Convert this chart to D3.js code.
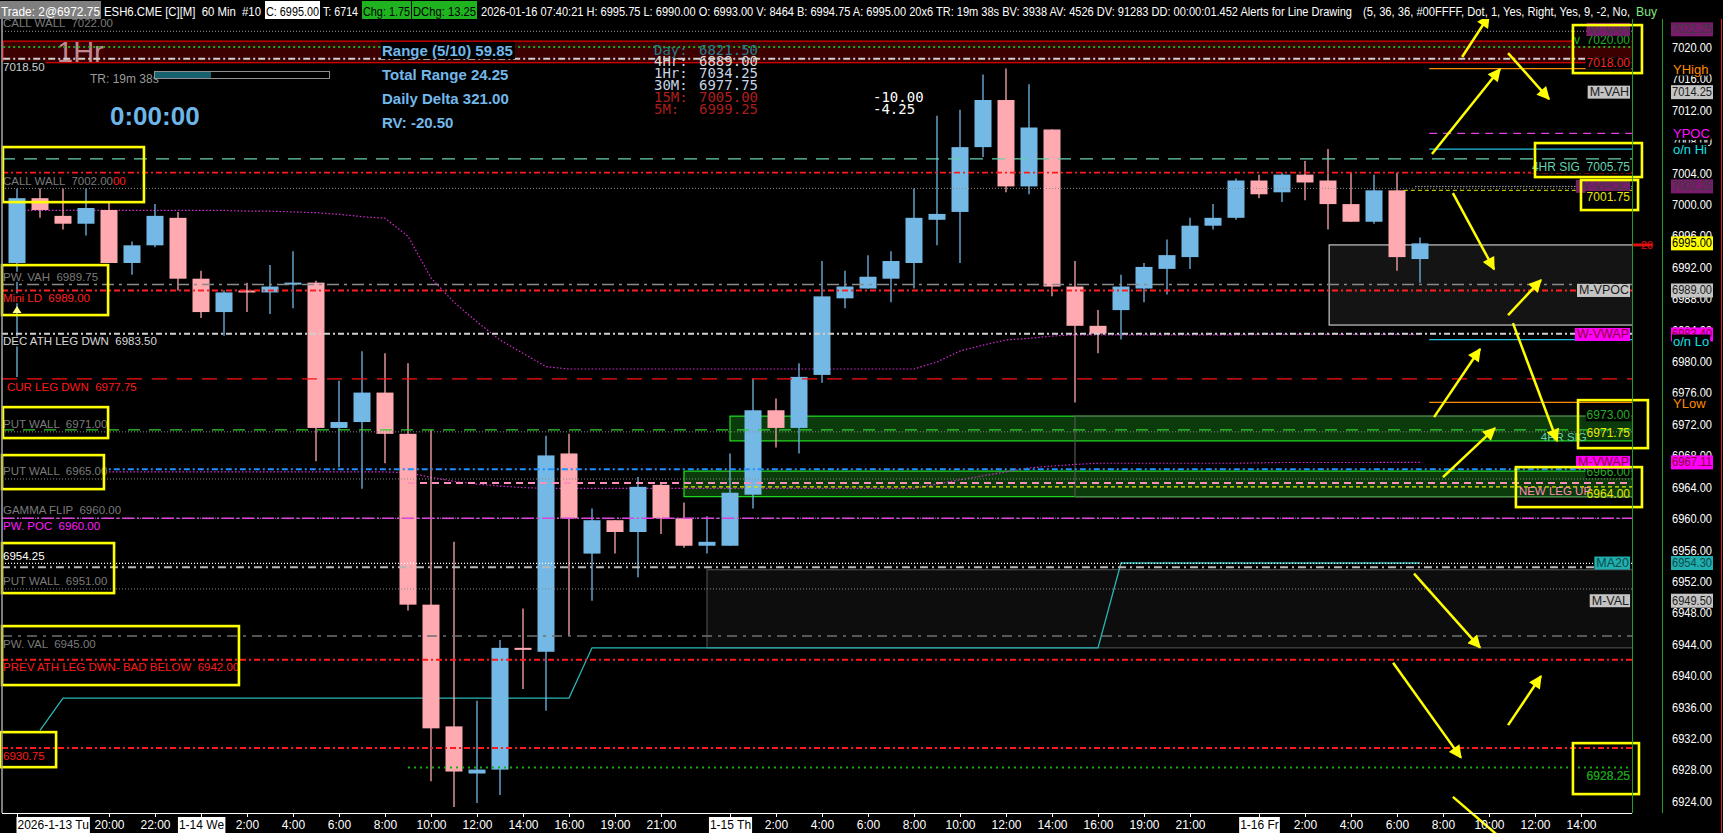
<!DOCTYPE html>
<html><head><meta charset="utf-8">
<script src="https://cdn.jsdelivr.net/npm/d3@7"></script>
<style>
body{margin:0;background:#000;overflow:hidden}
svg{display:block}
text{font-family:"Liberation Sans",Arial,sans-serif;white-space:pre}
.mono{font-family:"DejaVu Sans Mono","Liberation Mono",monospace}
</style></head>
<body><svg id="c" width="1723" height="833"></svg>
<script>
// ---------------- DATA ----------------
const opens  = [6992.5,7000.75,6998.5,6997.5,6999.25,6992.5,6994.75,6998.25,6990.5,6986.25,6989,6988.75,6989.75,6990,6971.5,6972.25,6976,6970.75,6949,6933.5,6927.5,6928,6943.5,6943,6968.25,6955.5,6959.75,6958.25,6964.25,6960,6956.5,6956.5,6963,6973.75,6971.5,6978.25,6988,6989.25,6990.5,6992.5,6998,6999,7007.25,7013.25,7002.25,7009.5,6989.5,6984.5,6986.5,6989.25,6991.75,6993.25,6997.25,6998.25,7003,7001.5,7003.75,7003,7000,6997.75,7001.75,6993];
const highs  = [7002,7002,7002,7002,7000.25,6995.25,7000,6999,6991.5,6989,6990,6992.25,6994,6990.25,6977.5,6981.25,6981,6979.75,6971.25,6957,6936.75,6944.5,6948.5,6970.5,6970.75,6961.25,6959.75,6965.25,6964.5,6962,6960.25,6968.25,6977.75,6975.25,6979.75,6992.75,6991.5,6993.5,6994,7002,7011.25,7012,7016.5,7017.25,7015.25,7009.5,6992.75,6986.5,6991,6992.5,6995.5,6998.25,7000,7003.25,7003.75,7004,7005.5,7007,7004,7003.75,7004,6995.75];
const lows   = [6978,6998.25,6996.75,6996,6992.5,6991,6994.5,6989,6985.5,6983.25,6986.25,6986,6986.75,6967.25,6966.5,6963.75,6967,6948.25,6926.5,6923.25,6923.75,6924.75,6938.25,6935.5,6945,6949.5,6955.5,6952.5,6958,6956.25,6955.5,6956.5,6961.25,6969,6968.25,6977.25,6986.75,6989.25,6987.5,6989.25,6994.75,6992.5,7006,7001.5,7001.25,6988.25,6974.75,6981,6982.75,6987.5,6988.5,6991.75,6996.75,6998,7000.75,7000.25,7000.5,6996.75,6997.75,6997.5,6991.5,6990];
const closes = [7000.75,6999.25,6997.5,6999.5,6992.5,6994.75,6998.5,6990.5,6986.25,6988.75,6988.75,6989.5,6990,6971.5,6972.25,6976,6970.75,6949,6933.25,6927.75,6928,6943.5,6943.25,6968,6960,6959.75,6958.25,6964,6960,6956.5,6957,6963.25,6973.75,6971.5,6978,6988.25,6989.5,6990.75,6992.75,6998.25,6998.75,7007.25,7013.25,7002.25,7009.75,6989.5,6984.5,6983.5,6989.5,6992,6993.5,6997.25,6998.25,7003,7001.25,7003.75,7002.75,7000,6997.75,7001.75,6993.25,6995];

// daily MA20 (steps by session), weekly and monthly VWAP
const ma20 = [null,6933,6937.1,6937.1,6937.1,6937.1,6937.1,6937.1,6937.1,6937.1,6937.1,6937.1,6937.1,6937.1,6937.1,6937.1,6937.1,6937.1,6937.1,6937.1,6937.1,6937.1,6937.1,6937.1,6937.1,6943.5,6943.5,6943.5,6943.5,6943.5,6943.5,6943.5,6943.5,6943.5,6943.5,6943.5,6943.5,6943.5,6943.5,6943.5,6943.5,6943.5,6943.5,6943.5,6943.5,6943.5,6943.5,6943.5,6954.3,6954.3,6954.3,6954.3,6954.3,6954.3,6954.3,6954.3,6954.3,6954.3,6954.3,6954.3,6954.3,6954.3];
const wVwap = [6999.2,6999.2,6999.2,6999.2,6999.2,6999.2,6999.2,6999.2,6999.2,6999.2,6999.1,6999.1,6999.0,6998.9,6998.7,6998.4,6998.2,6995.9,6990.6,6987.5,6985.0,6982.7,6981.0,6979.3,6979.0,6979.0,6979.0,6979.0,6979.0,6979.0,6979.0,6979.0,6979.0,6979.0,6979.0,6979.0,6979.0,6979.0,6979.0,6979.0,6979.9,6981.3,6982.05,6982.7,6982.9,6983.2,6983.35,6983.35,6983.35,6983.35,6983.35,6983.35,6983.35,6983.35,6983.4,6983.4,6983.4,6983.4,6983.4,6983.4,6983.4,6983.4];
const mVwap = [null,null,null,null,6965.9,6965.9,6965.9,6965.9,6965.9,6965.9,6965.9,6965.9,6965.9,6965.9,6965.9,6965.9,6965.9,6965.8,6965.2,6964.7,6964.35,6964.1,6963.9,6963.8,6963.8,6963.8,6963.8,6963.8,6963.8,6963.8,6963.8,6963.8,6963.8,6963.8,6963.8,6963.8,6963.8,6963.8,6963.8,6963.8,6964.35,6964.9,6965.4,6965.9,6966.4,6966.65,6966.85,6967.0,6967.0,6967.0,6967.0,6967.0,6967.0,6967.0,6967.05,6967.1,6967.1,6967.1,6967.1,6967.1,6967.11,6967.11];

// price axis ticks and time axis ticks
const priceTicks = [7020,7016,7012,7008,7004,7000,6996,6992,6988,6984,6980,6976,6972,6968,6964,6960,6956,6952,6948,6944,6940,6936,6932,6928,6924];
const timeTickBars   = [0,4,6,8,10,12,14,16,18,20,22,24,26,28,31,33,35,37,39,41,43,45,47,49,51,54,56,58,60,62,64,66,68];
const timeTickLabels = ["2026-1-13 Tu","20:00","22:00","1-14 We","2:00","4:00","6:00","8:00","10:00","12:00","14:00","16:00","19:00","21:00","1-15 Th","2:00","4:00","6:00","8:00","10:00","12:00","14:00","16:00","19:00","21:00","1-16 Fr","2:00","4:00","6:00","8:00","10:00","12:00","14:00"];

// horizontal levels (price, first bar where drawn)
const levelPrices = [7022,7020,7018.5,7005.75,7004,7002,6989.75,6989,6983.5,6977.75,6971.25,6971,6966.25,6965,6964.5,6964,6960,6960,6954.25,6953.75,6951,6945,6942,6930.75,6928.25];
const levelStart  = [-1,-0.6,-0.6,-1,-1,-1,-1,-1,-1,-1,-1,-1,3.6,-1,17,29,-1,-1,-1,-1,-1,-1,-1,-1,17];
// left level labels
const leftLabelText  = ["CALL WALL  7022.00","7018.50","CALL WALL  7002.00","PW. VAH  6989.75","Mini LD  6989.00","DEC ATH LEG DWN  6983.50","CUR LEG DWN  6977.75","PUT WALL  6971.00","PUT WALL  6965.00","GAMMA FLIP  6960.00","PW. POC  6960.00","6954.25","PUT WALL  6951.00","PW. VAL  6945.00","PREV ATH LEG DWN- BAD BELOW  6942.00","6930.75"];
const leftLabelPrice = [7022,7018.5,7002,6989.75,6989,6983.5,6977.75,6971,6965,6960,6960,6954.25,6951,6945,6942,6930.75];
const leftLabelSide  = [-1,1,-1,-1,1,1,1,-1,-1,-1,1,-1,-1,1,1,1];

// short right-side session levels (start at current bar)
const sessionNames  = ["YHigh","YPOC","o/n Hi","o/n Lo","YLow"];
const sessionPrices = [7017.25,7009,7007,6982.75,6974.75];

// study tags (right edge of chart) and their axis values
const tagNames  = ["W-VAH","M-VAH","W-VPOC","M-VPOC","W-VWAP","M-VWAP","MA20","M-VAL"];
const tagPrices = [7022.25,7014.25,7002.25,6989.0,6983.4,6967.11,6954.3,6949.5];

// zones [startBar, topPrice, bottomPrice]
const zoneStart = [-0.6,31,29,30,46,57.05];
const zoneTop   = [7020.75,6973,6966,6953.45,6973,6994.8];
const zoneBot   = [7018,6969.85,6962.75,6943.5,6962.7,6984.6];

// right-side price notes
const noteText  = ["v  7020.00","7018.00","4HR SIG  7005.75","7001.75","6973.00","6971.75","6966.00","6964.00","6928.25"];
const notePrice = [7020.9,7017.9,7004.7,7000.9,6973.1,6970.8,6965.9,6963.1,6927.2];
const noteExtraText  = ["4HR SIG","NEW LEG UP"];
const noteExtraPrice = [6970.3,6963.5];

// hand-drawn yellow boxes [bar1, price1, bar2, price2]
const boxB1=[-0.61,-0.65,-0.61,-0.65,-0.65,-0.65,-0.74,67.65,66.0,68.0,67.87,65.17,67.65];
const boxP1=[7007.26,6992.23,6974.15,6968.04,6956.84,6946.27,6932.77,7022.79,7007.77,7003.06,6975.04,6966.51,6931.37];
const boxB2=[5.52,3.96,3.96,3.78,4.22,9.65,1.70,70.65,70.65,70.48,70.91,70.65,70.52];
const boxP2=[7000.25,6985.87,6970.21,6963.71,6950.47,6938.76,6928.31,7016.68,7003.44,6999.24,6968.93,6961.42,6924.88];
// hand-drawn yellow arrows [fromBar, fromPrice, toBar, toPrice]
const arrFB=[62.83,61.52,64.83,62.43,64.83,65.04,61.61,62.00,60.74,59.83,64.83,62.43];
const arrFP=[7018.72,7006.37,7019.23,7001.4,6985.87,6984.85,6972.88,6965.24,6952.95,6941.61,6933.66,6924.52];
const arrTB=[64.0,64.48,66.61,64.22,66.26,66.96,63.61,64.26,63.61,62.78,66.26,64.87];
const arrTP=[7024.0,7017.19,7013.37,6991.7,6990.33,6969.83,6981.54,6971.48,6943.53,6929.52,6939.9,6918.4];

// ---------------- CHART ----------------
const svg = d3.select("#c");
const L=2, R=1632, T=19, B=813;
const x = d3.scaleLinear().domain([0,61]).range([17,1420]);
const y = d3.scaleLinear().domain([6924,7020]).range([801,47]);
const up="#74b9e6", dn="#ffa9b0";

svg.append("rect").attr("width",1723).attr("height",833).attr("fill","#000");
const defs = svg.append("defs");
defs.append("clipPath").attr("id","clip").append("rect").attr("x",L).attr("y",T).attr("width",R-L).attr("height",B-T);
defs.append("marker").attr("id","ah").attr("viewBox","0 0 10 10").attr("refX",9).attr("refY",5)
  .attr("markerUnits","userSpaceOnUse").attr("markerWidth",15).attr("markerHeight",13).attr("orient","auto")
  .append("path").attr("d","M0,0 L10,5 L0,10 z").attr("fill","#ffff00");

const g = svg.append("g").attr("clip-path","url(#clip)");

// zones
const zoneFill  = ["#3d0000","#0b3a0b","#0b3a0b","#0d0d0d","none","#141414"];
const zoneStroke= ["#e00000","#22e022","#22e022","#4a4a4a","#555","#c8c8c8"];
zoneStart.forEach((s,i)=>{
  g.append("rect").attr("x",x(s)).attr("y",y(zoneTop[i])).attr("width",R+5-x(s))
   .attr("height",y(zoneBot[i])-y(zoneTop[i])).attr("fill",zoneFill[i]).attr("stroke",zoneStroke[i]).attr("stroke-width",1.2);
});

// 1Hr watermark
g.append("text").attr("x",57).attr("y",52).attr("font-size",29).attr("fill","#c08a94").attr("dominant-baseline","central").text("1Hr");

// series lines
const lineGen = d3.line().defined(d=>d!=null).x((d,i)=>x(i)).y(d=>y(d));
g.append("path").datum(ma20).attr("d",lineGen).attr("fill","none").attr("stroke","#2ab5b5").attr("stroke-width",1.3);
g.append("path").datum(wVwap).attr("d",lineGen).attr("fill","none").attr("stroke","#d42ad4").attr("stroke-width",1.2).attr("stroke-dasharray","1.5,2");
g.append("path").datum(mVwap).attr("d",lineGen).attr("fill","none").attr("stroke","#d42ad4").attr("stroke-width",1.2).attr("stroke-dasharray","1.5,2");

// candles
const cw = 17;
const cg = g.append("g");
opens.forEach((o,i)=>{
  const c = closes[i], col = c>=o?up:dn;
  cg.append("line").attr("x1",x(i)).attr("x2",x(i)).attr("y1",y(highs[i])).attr("y2",y(lows[i])).attr("stroke",col).attr("stroke-width",1.3);
  const top=y(Math.max(o,c)), bot=y(Math.min(o,c));
  cg.append("rect").attr("x",x(i)-cw/2).attr("y",top).attr("width",cw).attr("height",Math.max(2,bot-top)).attr("fill",col);
});

// level lines
const levelStyles = [
 {c:"#9a9a9a",d:"1,2",w:1},{c:"#1faa1f",d:"2,3",w:2},{c:"#d0d0d0",d:"7,3,2,3",w:2},{c:"#66d1b0",d:"13,9",w:1.4},
 {c:"#ff1a1a",d:"6,3,2,3",w:1.6},{c:"#8a8a8a",d:"1,2",w:1},{c:"#8a8a8a",d:"12,5,3,5",w:1.5},{c:"#ff2020",d:"6,3,2,3",w:2},
 {c:"#d0d0d0",d:"6,3,2,3",w:2},{c:"#ff1010",d:"15,10",w:1.4},{c:"#30d030",d:"12,9",w:1.4},{c:"#8a8a8a",d:"1,2",w:1},
 {c:"#1e90ff",d:"6,3,2,3",w:2},{c:"#8a8a8a",d:"1,2",w:1},{c:"#ff8fb8",d:"7,5",w:2},{c:"#e8e800",d:"4,3",w:1.4},
 {c:"#8a8a8a",d:"1,2",w:1},{c:"#e040e0",d:"12,3,2,3",w:1.5},{c:"#ffffff",d:"1,2",w:1.4},{c:"#b8b8b8",d:"8,4,2,4",w:2},
 {c:"#8a8a8a",d:"1,2",w:1},{c:"#707070",d:"10,6,3,6",w:1.5},{c:"#ff1a1a",d:"6,3,2,3",w:2},{c:"#ff1a1a",d:"6,3,2,3",w:2},
 {c:"#16b016",d:"2,4",w:2}
];
levelPrices.forEach((p,i)=>{
  const s=levelStyles[i];
  g.append("line").attr("x1",Math.max(L,x(levelStart[i]))).attr("x2",R).attr("y1",y(p)).attr("y2",y(p))
   .attr("stroke",s.c).attr("stroke-width",s.w).attr("stroke-dasharray",s.d);
});
// session levels + short lines at right
const sessColor = ["#ff8c00","#e040e0","#22c0dc","#22c0dc","#ff8c00"];
const sessDash  = [null,"8,6",null,null,null];
sessionPrices.forEach((p,i)=>{
  g.append("line").attr("x1",x(61.4)).attr("x2",R).attr("y1",y(p)).attr("y2",y(p))
   .attr("stroke",sessColor[i]).attr("stroke-width",1.2).attr("stroke-dasharray",sessDash[i]);
});
g.append("line").attr("x1",x(60.8)).attr("x2",R).attr("y1",y(7002.25)).attr("y2",y(7002.25)).attr("stroke","#ffffff").attr("stroke-dasharray","1,2");
g.append("line").attr("x1",x(60.3)).attr("x2",R).attr("y1",y(7001.75)).attr("y2",y(7001.75)).attr("stroke","#e8e800").attr("stroke-dasharray","4,3");

// left labels with black background
const leftColors = ["#7a7a7a","#d0d0d0","#7a7a7a","#7a7a7a","#ff2020","#d8d8d8","#ff1a1a","#7a7a7a","#7a7a7a","#7a7a7a","#ff1aff","#ffffff","#7a7a7a","#7a7a7a","#ff1a1a","#ff1a1a"];
function bgText(parent, tx, ty, str, col, size, anchor, bg){
  const t = parent.append("text").attr("x",tx).attr("y",ty).attr("font-size",size).attr("fill",col)
    .attr("dominant-baseline","central").attr("text-anchor",anchor||"start").text(str);
  if(bg){ const bb=t.node().getBBox();
    parent.insert("rect",()=>t.node()).attr("x",bb.x-1).attr("y",bb.y+1).attr("width",bb.width+2).attr("height",bb.height-2).attr("fill",bg); }
  return t;
}
let callWallLabel=null;
leftLabelText.forEach((s,i)=>{
  const xx = (s.startsWith("CUR")) ? 7 : 3;
  const t = bgText(g, xx, y(leftLabelPrice[i]) + leftLabelSide[i]*7.8, s, leftColors[i], 11.5, "start", "#000");
  if(i===2) callWallLabel=t;
});
{ const bb = callWallLabel.node().getBBox();
  g.append("text").attr("x",bb.x+bb.width).attr("y",y(7002)-7.8).attr("font-size",11.5).attr("fill","#ff1a1a").attr("dominant-baseline","central").text("00"); }
// yellow little triangle (marker below Mini LD)
const triY = y(6986.5);
g.append("path").attr("d",`M${x(0)-4.5},${triY+3} L${x(0)+4.5},${triY+3} L${x(0)},${triY-4} z`).attr("fill","#ffff88");

// right tag boxes
const tagBg = ["#7a1c6c","#c4c4c4","#7a1c6c","#c4c4c4","#ff00ff","#ff00ff","#20aeae","#c4c4c4"];
const tagFg = ["#3a3a3a","#202020","#3a3a3a","#202020","#8a0030","#8a0030","#0a4a4a","#202020"];
// right side notes
const noteCol = ["#22b022","#ff2020","#66d1b0","#e8e800","#22b022","#e8e800","#22b022","#e8e800","#16a016"];
const noteBg  = ["#000","#000","#000","#000","#000",null,"#000",null,null];
noteText.forEach((s,i)=>{ bgText(g, R-2, y(notePrice[i]), s, noteCol[i], 12, "end", noteBg[i]); });
bgText(g, x(66.25), y(noteExtraPrice[0]), noteExtraText[0], "#66d1b0", 11.5, "start", null);
bgText(g, x(65.3), y(noteExtraPrice[1]), noteExtraText[1], "#ff8fb8", 11.5, "start", null);
tagNames.forEach((s,i)=>{
  const t = g.append("text").attr("x",R-3).attr("y",y(tagPrices[i])).attr("font-size",12.5).attr("fill",tagFg[i])
    .attr("dominant-baseline","central").attr("text-anchor","end").text(s);
  const bb=t.node().getBBox();
  g.insert("rect",()=>t.node()).attr("x",bb.x-2).attr("y",y(tagPrices[i])-6.5).attr("width",bb.width+3).attr("height",13).attr("fill",tagBg[i]);
});
// re-draw notes that sit over W-VPOC tag
bgText(g, R-2, y(notePrice[3]), noteText[3], noteCol[3], 12, "end", "#000");
bgText(g, R-2, y(notePrice[8]), noteText[8], noteCol[8], 12, "end", null);

// yellow annotation boxes & arrows
const ag = svg.append("g");
boxB1.forEach((b,i)=>{
  ag.append("rect").attr("x",x(b)).attr("y",y(boxP1[i])).attr("width",x(boxB2[i])-x(b)).attr("height",y(boxP2[i])-y(boxP1[i]))
    .attr("fill","none").attr("stroke","#ffff00").attr("stroke-width",2.6);
});
arrFB.forEach((b,i)=>{
  ag.append("line").attr("x1",x(b)).attr("y1",y(arrFP[i])).attr("x2",x(arrTB[i])).attr("y2",y(arrTP[i]))
    .attr("stroke","#ffff00").attr("stroke-width",2.5).attr("marker-end","url(#ah)");
});

// ---- info panels ----
const info = svg.append("g");
info.append("text").attr("x",90).attr("y",78.5).attr("font-size",12).attr("fill","#9a9a9a").attr("dominant-baseline","central").text("TR: 19m 38s");
info.append("rect").attr("x",154.5).attr("y",71.5).attr("width",175).attr("height",7).attr("fill","#000").attr("stroke","#909090");
info.append("rect").attr("x",155).attr("y",72).attr("width",56).attr("height",6).attr("fill","#17606e");
info.append("text").attr("x",110).attr("y",116).attr("font-size",26).attr("font-weight","bold").attr("fill","#6cb6e8").attr("dominant-baseline","central").text("0:00:00");
const infoLines = ["Range (5/10) 59.85","Total Range 24.25","Daily Delta 321.00","RV: -20.50"];
infoLines.forEach((s,i)=>{
  const t = info.append("text").attr("x",382).attr("y",50.5+i*24).attr("font-size",15).attr("font-weight","bold")
    .attr("fill","#72b8ea").attr("dominant-baseline","central").text(s);
  if(i===0){ const bb=t.node().getBBox(); info.insert("rect",()=>t.node()).attr("x",bb.x-1).attr("y",bb.y).attr("width",bb.width+3).attr("height",bb.height).attr("fill","#000"); }
});
const tfNames=["Day:","4Hr:","1Hr:","30M:","15M:","5M:"];
const tfVals =["6821.50","6889.00","7034.25","6977.75","7005.00","6999.25"];
const tfCols =["#237b8c","#d8d8d8","#c8d4e4","#c8d4e4","#b01e1e","#a81c1c"];
tfNames.forEach((s,i)=>{
  info.append("text").attr("class","mono").attr("x",654).attr("y",49.5+i*11.8).attr("font-size",14).attr("fill",tfCols[i]).attr("dominant-baseline","central").text(s);
  info.append("text").attr("class","mono").attr("x",699).attr("y",49.5+i*11.8).attr("font-size",14).attr("fill",tfCols[i]).attr("dominant-baseline","central").text(tfVals[i]);
});
info.append("text").attr("class","mono").attr("x",873).attr("y",97).attr("font-size",14).attr("fill","#ffffff").attr("dominant-baseline","central").text("-10.00");
info.append("text").attr("class","mono").attr("x",873).attr("y",108.5).attr("font-size",14).attr("fill","#ffffff").attr("dominant-baseline","central").text("-4.25");

// ---- frame lines ----
svg.append("line").attr("x1",2).attr("x2",2).attr("y1",T).attr("y2",B).attr("stroke","#a8a8a8").attr("stroke-width",1.5);
svg.append("line").attr("x1",R+0.5).attr("x2",R+0.5).attr("y1",0).attr("y2",B).attr("stroke","#22a022");
svg.append("line").attr("x1",1662.5).attr("x2",1662.5).attr("y1",0).attr("y2",B).attr("stroke","#22a022");
svg.append("line").attr("x1",1721.5).attr("x2",1721.5).attr("y1",0).attr("y2",833).attr("stroke","#d02020");

// ---- price axis ----
const yAxis = d3.axisRight(y).tickValues(priceTicks).tickFormat(d3.format(".2f")).tickSize(0).tickPadding(0);
const ya = svg.append("g").attr("transform","translate(1672,0)").call(yAxis);
ya.select(".domain").remove();
ya.selectAll("text").attr("fill","#ffffff").attr("font-size",12.5).attr("font-family","'Liberation Sans',Arial,sans-serif").attr("dy","0.35em").attr("textLength",40).attr("lengthAdjust","spacingAndGlyphs");
// axis boxes
const ax = svg.append("g");
function axisBox(p, bg, fg, label){
  ax.append("rect").attr("x",1671).attr("y",y(p)-7).attr("width",42).attr("height",14).attr("fill",bg);
  ax.append("text").attr("x",1672).attr("y",y(p)).attr("font-size",12.5).attr("fill",fg).attr("dominant-baseline","central")
    .attr("textLength",40).attr("lengthAdjust","spacingAndGlyphs").text(label);
}
tagPrices.forEach((p,i)=>axisBox(p, tagBg[i], tagFg[i], d3.format(".2f")(p)));
axisBox(6995, "#ffff00", "#000000", d3.format(".2f")(closes[closes.length-1]));
// axis session tags
const sessAxisCol = ["#ff8c00","#ff10ff","#10e0e8","#10e0e8","#ff8c00"];
const sessAxisOff = [0.5,0,0,1.5,0.7];
sessionNames.forEach((s,i)=>{
  bgText(ax, 1673, y(sessionPrices[i]) + sessAxisOff[i], s, sessAxisCol[i], 13, "start", "#000");
});
// current price marker
ax.append("rect").attr("x",R+1).attr("y",y(6994.8)-1.5).attr("width",19).attr("height",3).attr("fill","#e01010");
ax.append("text").attr("x",1641).attr("y",y(6994.8)).attr("font-size",11).attr("fill","#e01010").attr("dominant-baseline","central").text("20");

// ---- time axis ----
const xAxis = d3.axisBottom(x).tickValues(timeTickBars).tickFormat((d,i)=>timeTickLabels[i]).tickSize(4).tickPadding(3);
const xa = svg.append("g").attr("transform",`translate(0,${B})`).call(xAxis);
xa.select(".domain").remove();
xa.selectAll(".tick line").attr("stroke","#ffffff");
xa.selectAll("text").attr("fill","#ffffff").attr("font-size",12).attr("font-family","'Liberation Sans',Arial,sans-serif");
svg.append("line").attr("x1",2).attr("x2",R).attr("y1",B+0.5).attr("y2",B+0.5).attr("stroke","#ffffff");
xa.selectAll(".tick").each(function(d,i){
  const lab = timeTickLabels[i];
  if(lab.includes("-")){
    const t = d3.select(this).select("text").attr("fill","#000");
    if(i===0) t.attr("text-anchor","start").attr("x",0);
    const bb = t.node().getBBox();
    d3.select(this).insert("rect","text").attr("x",bb.x-1).attr("y",4).attr("width",bb.width+2).attr("height",16).attr("fill","#ffffff");
  }
});

// ---- header ----
const hd = svg.append("g");
hd.append("rect").attr("width",1723).attr("height",19).attr("fill","#000");
const hdText = ["Trade: 2@6972.75","ESH6.CME [C][M]  60 Min  #10","C: 6995.00","T: 6714","Chg: 1.75","DChg: 13.25",
 "2026-01-16 07:40:21 H: 6995.75 L: 6990.00 O: 6993.00 V: 8464 B: 6994.75 A: 6995.00 20x6 TR: 19m 38s BV: 3938 AV: 4526 DV: 91283 DD: 00:00:01.452 Alerts for Line Drawing",
 "(5, 36, 36, #00FFFF, Dot, 1, Yes, Right, Yes, 9, -2, No,","Buy"];
const hdX  = [1,104,266,323,363,413,481,1363,1636];
const hdW  = [99,157,53,35,47,63,871,267,21];
const hdBg = ["#7f7f7f",null,"#ffffff",null,"#1fb41f","#1fb41f",null,null,null];
const hdFg = ["#ffffff","#ffffff","#000000","#ffffff","#000000","#000000","#ffffff","#ffffff","#80e880"];
hdText.forEach((s,i)=>{
  if(hdBg[i]) hd.append("rect").attr("x",hdX[i]-1).attr("y",1).attr("width",hdW[i]+2).attr("height",18).attr("fill",hdBg[i]);
  hd.append("text").attr("x",hdX[i]).attr("y",11).attr("font-size",13).attr("fill",hdFg[i]).attr("dominant-baseline","central")
    .attr("textLength",hdW[i]).attr("lengthAdjust","spacingAndGlyphs").text(s);
});
</script></body></html>
